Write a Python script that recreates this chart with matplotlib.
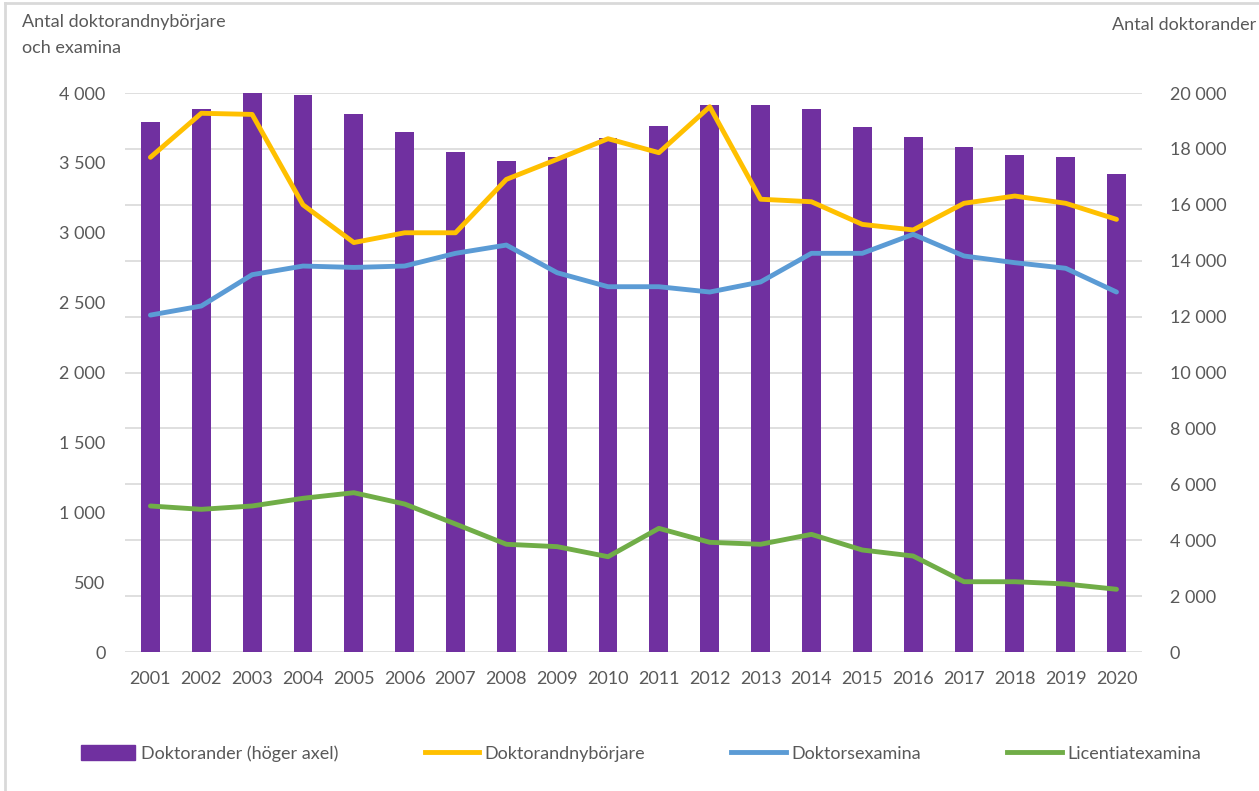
import matplotlib.pyplot as plt
from matplotlib.lines import Line2D
from matplotlib.patches import Patch
from matplotlib.ticker import FuncFormatter

plt.rcParams['font.family'] = ['Lato', 'DejaVu Sans']

# Data
years = [str(y) for y in range(2001, 2021)]
doktorander = [18950, 19420, 20010, 19940, 19260, 18600, 17880, 17570, 17710, 18400,
               18820, 19580, 19580, 19420, 18780, 18430, 18070, 17790, 17710, 17110]
nyborjare = [3540, 3855, 3847, 3200, 2930, 3000, 3000, 3382, 3526, 3673,
             3573, 3902, 3240, 3222, 3060, 3020, 3211, 3263, 3211, 3096]
doktorsexamina = [2411, 2476, 2700, 2762, 2752, 2762, 2853, 2912, 2714, 2614,
                  2614, 2576, 2648, 2853, 2853, 2989, 2834, 2786, 2746, 2576]
licentiat = [1045, 1021, 1045, 1100, 1140, 1059, 916, 771, 754, 682,
             885, 785, 771, 842, 730, 687, 503, 503, 487, 449]

purple = '#7030A0'
orange = '#FFC000'
blue = '#5B9BD5'
green = '#70AD47'
txt = '#595959'

fig = plt.figure(figsize=(12.59, 7.91), dpi=100)
ax = fig.add_axes([0.0993, 0.1757, 0.8077, 0.7067])
ax2 = ax.twinx()

x = list(range(len(years)))
ax2.bar(x, doktorander, width=0.37, color=purple, zorder=2)

# linjerna ovanpå staplarna
ax.set_zorder(ax2.get_zorder() + 1)
ax.patch.set_visible(False)
lw = 3.5
ax.plot(x, nyborjare, color=orange, lw=lw, solid_capstyle='round', solid_joinstyle='round')
ax.plot(x, doktorsexamina, color=blue, lw=lw, solid_capstyle='round', solid_joinstyle='round')
ax.plot(x, licentiat, color=green, lw=lw, solid_capstyle='round', solid_joinstyle='round')

fmt = FuncFormatter(lambda v, p: f"{int(v):,}".replace(',', ' '))

ax.set_xlim(-0.5, len(years) - 0.5)
ax.set_ylim(0, 4000)
ax.set_yticks(range(0, 4001, 500))
ax.yaxis.set_major_formatter(fmt)
ax2.set_ylim(0, 20000)
ax2.set_yticks(range(0, 20001, 2000))
ax2.yaxis.set_major_formatter(fmt)

ax.set_xticks(x)
ax.set_xticklabels(years)

for a in (ax, ax2):
    for s in a.spines.values():
        s.set_visible(False)
    a.tick_params(length=0, labelsize=13, labelcolor=txt)
ax.tick_params(axis='x', pad=14)
ax.tick_params(axis='y', pad=14)
ax2.tick_params(axis='y', pad=20)

# rutnät bakom staplarna
ax2.yaxis.grid(True, color='#D9D9D9', lw=1.2, zorder=0)
ax2.set_axisbelow(True)

fig.text(0.0175, 0.982, 'Antal doktorandnybörjare\noch examina', fontsize=13,
         color=txt, va='top', ha='left', linespacing=1.75)
fig.text(0.998, 0.978, 'Antal doktorander', fontsize=13, color=txt,
         va='top', ha='right')

handles = [Patch(color=purple),
           Line2D([], [], color=orange, lw=lw),
           Line2D([], [], color=blue, lw=lw),
           Line2D([], [], color=green, lw=lw)]
labels = ['Doktorander (höger axel)', 'Doktorandnybörjare', 'Doktorsexamina', 'Licentiatexamina']
leg = fig.legend(handles, labels, loc='center', bbox_to_anchor=(0.509, 0.047), ncol=4,
                 frameon=False, fontsize=13, handlelength=3.0, handletextpad=0.3,
                 columnspacing=4.8, handleheight=0.9)
for t in leg.get_texts():
    t.set_color(txt)

# ram (överkant och vänsterkant)
fig.add_artist(Line2D([0.004, 1.0], [0.996, 0.996], color='#D9D9D9', lw=2, transform=fig.transFigure))
fig.add_artist(Line2D([0.004, 0.004], [0.0, 0.996], color='#D9D9D9', lw=2, transform=fig.transFigure))

fig.savefig('out.png', dpi=100)
